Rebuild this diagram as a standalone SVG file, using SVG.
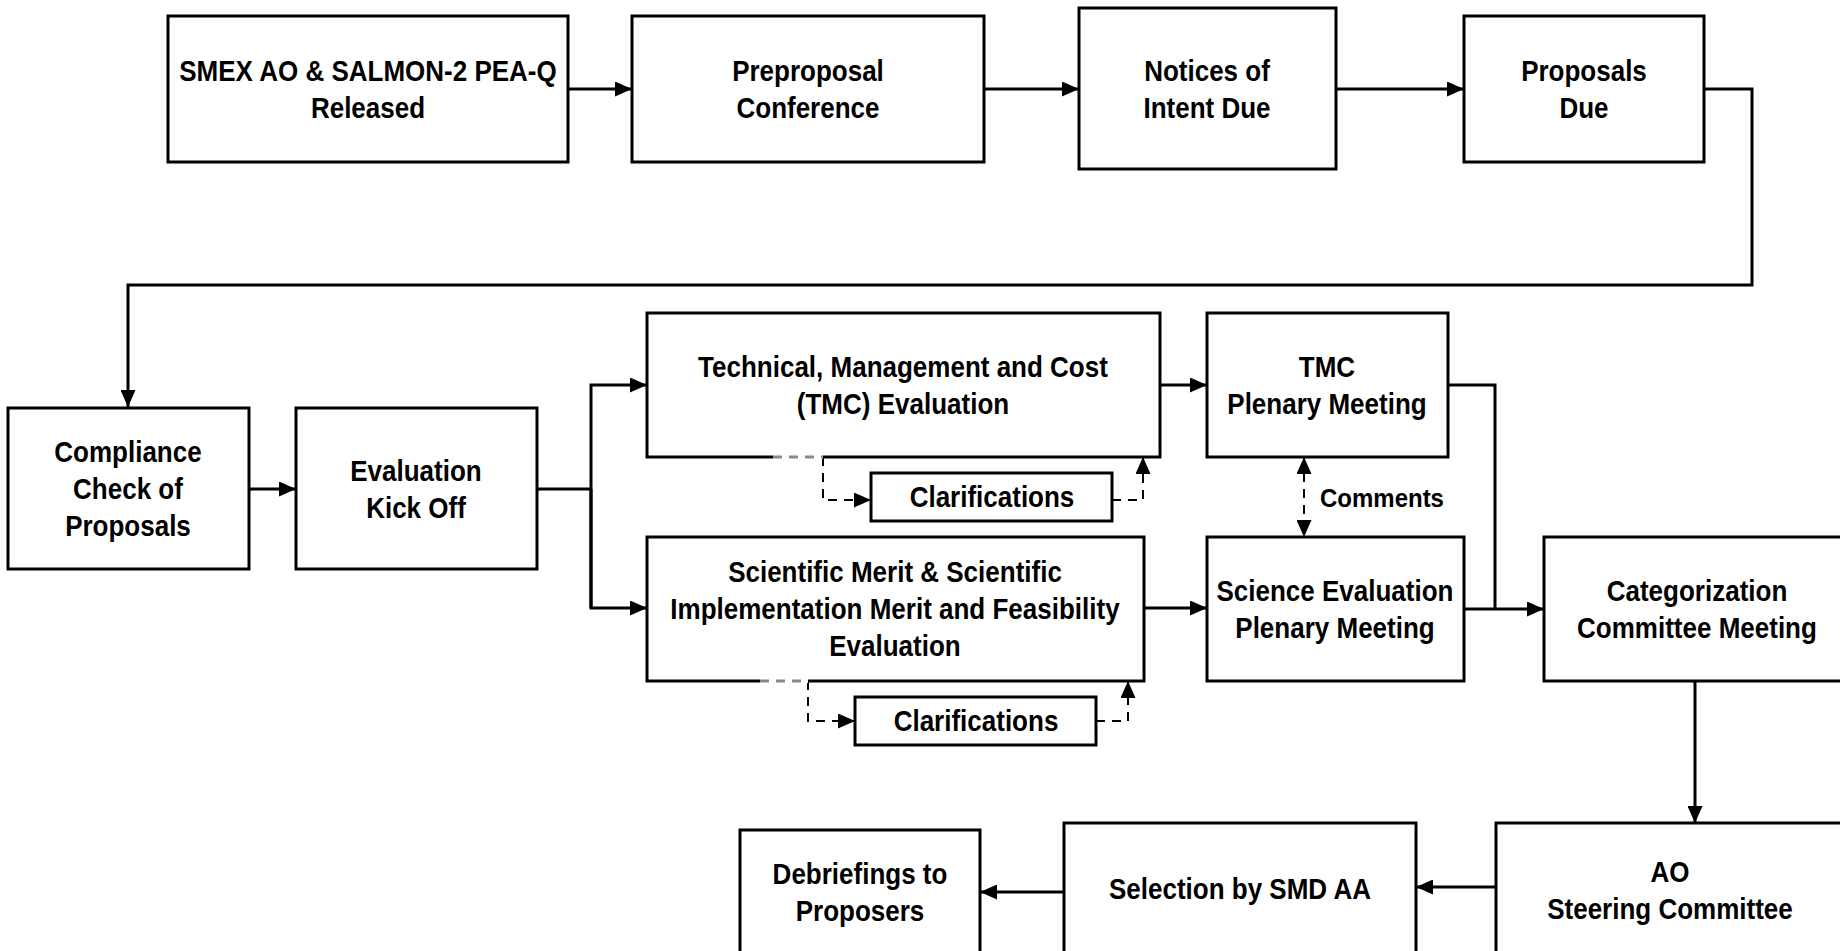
<svg xmlns="http://www.w3.org/2000/svg" width="1840" height="951" viewBox="0 0 1840 951">
<style>
  .box { fill: #ffffff; stroke: #000000; stroke-width: 3; }
  .t { font-family: "Liberation Sans", Arial, sans-serif; font-weight: bold; font-size: 26px; fill: #000000; text-anchor: middle; transform-box: fill-box; transform-origin: center; transform: scaleY(1.1); }
  .lbl { font-family: "Liberation Sans", Arial, sans-serif; font-weight: bold; font-size: 24px; fill: #000000; transform-box: fill-box; transform-origin: center; transform: scaleY(1.1); }
  .c { fill: none; stroke: #000000; stroke-width: 3; }
  .d { fill: none; stroke: #000000; stroke-width: 2; stroke-dasharray: 9 7; }
  .g { fill: none; stroke: #888888; stroke-width: 3; stroke-dasharray: 9 7; }
  .w { fill: none; stroke: #ffffff; stroke-width: 4; }
</style>
<defs>
  <marker id="arr" markerUnits="userSpaceOnUse" markerWidth="17" markerHeight="15" refX="17" refY="7.5" orient="auto-start-reverse">
    <path d="M0,0 L17,7.5 L0,15 Z" fill="#000000"/>
  </marker>
</defs>
<rect width="1840" height="951" fill="#ffffff"/>

<g id="connectors">
  <path class="c" d="M568,89 L632,89" marker-end="url(#arr)"/>
  <path class="c" d="M984,89 L1079,89" marker-end="url(#arr)"/>
  <path class="c" d="M1336,89 L1464,89" marker-end="url(#arr)"/>
  <path class="c" d="M1704,89 L1752,89 L1752,285 L128,285 L128,407" marker-end="url(#arr)"/>
  <path class="c" d="M249,489 L296,489" marker-end="url(#arr)"/>
  <path class="c" d="M537,489 L591,489"/>
  <path class="c" d="M591,608 L591,385 L647,385" marker-end="url(#arr)"/>
  <path class="c" d="M591,489 L591,608 L647,608" marker-end="url(#arr)"/>
  <path class="c" d="M1160,385 L1207,385" marker-end="url(#arr)"/>
  <path class="c" d="M1144,608 L1207,608" marker-end="url(#arr)"/>
  <path class="c" d="M1448,385 L1495,385 L1495,609"/>
  <path class="c" d="M1464,609 L1544,609" marker-end="url(#arr)"/>
  <path class="c" d="M1695,681 L1695,823" marker-end="url(#arr)"/>
  <path class="c" d="M1496,887 L1416,887" marker-end="url(#arr)"/>
  <path class="c" d="M1064,892 L980,892" marker-end="url(#arr)"/>
  <path class="d" d="M823,457 L823,500 L871,500" marker-end="url(#arr)"/>
  <path class="d" d="M1112,500 L1143,500 L1143,457" marker-end="url(#arr)"/>
  <path class="d" d="M808,681 L808,721 L855,721" marker-end="url(#arr)"/>
  <path class="d" d="M1096,721 L1128,721 L1128,681" marker-end="url(#arr)"/>
  <path class="d" d="M1304,457 L1304,537" marker-start="url(#arr)" marker-end="url(#arr)"/>
  <text class="lbl" x="1320" y="506">Comments</text>
</g>

<g id="n-smex"><rect class="box" x="168" y="16" width="400" height="146"/>
  <text class="t" x="368" y="80">SMEX AO &amp; SALMON-2 PEA-Q</text><text class="t" x="368" y="117">Released</text></g>
<g id="n-preproposal"><rect class="box" x="632" y="16" width="352" height="146"/>
  <text class="t" x="808" y="80">Preproposal</text><text class="t" x="808" y="117">Conference</text></g>
<g id="n-noi"><rect class="box" x="1079" y="8" width="257" height="161"/>
  <text class="t" x="1207" y="80">Notices of</text><text class="t" x="1207" y="117">Intent Due</text></g>
<g id="n-proposals"><rect class="box" x="1464" y="16" width="240" height="146"/>
  <text class="t" x="1584" y="80">Proposals</text><text class="t" x="1584" y="117">Due</text></g>

<g id="n-compliance"><rect class="box" x="8" y="408" width="241" height="161"/>
  <text class="t" x="128" y="461">Compliance</text><text class="t" x="128" y="498">Check of</text><text class="t" x="128" y="535">Proposals</text></g>
<g id="n-kickoff"><rect class="box" x="296" y="408" width="241" height="161"/>
  <text class="t" x="416" y="480">Evaluation</text><text class="t" x="416" y="517">Kick Off</text></g>
<g id="n-tmc"><rect class="box" x="647" y="313" width="513" height="144"/>
  <text class="t" x="903" y="376">Technical, Management and Cost</text><text class="t" x="903" y="413">(TMC) Evaluation</text>
  <path class="w" d="M773,457 L823,457"/><path class="g" d="M773,457 L823,457"/></g>
<g id="n-tmcplenary"><rect class="box" x="1207" y="313" width="241" height="144"/>
  <text class="t" x="1327" y="376">TMC</text><text class="t" x="1327" y="413">Plenary Meeting</text></g>
<g id="n-clar1"><rect class="box" x="871" y="473" width="241" height="48"/>
  <text class="t" x="992" y="506">Clarifications</text></g>
<g id="n-sci"><rect class="box" x="647" y="537" width="497" height="144"/>
  <text class="t" x="895" y="581">Scientific Merit &amp; Scientific</text><text class="t" x="895" y="618">Implementation Merit and Feasibility</text><text class="t" x="895" y="655">Evaluation</text>
  <path class="w" d="M760,681 L808,681"/><path class="g" d="M760,681 L808,681"/></g>
<g id="n-sciplenary"><rect class="box" x="1207" y="537" width="257" height="144"/>
  <text class="t" x="1335" y="600">Science Evaluation</text><text class="t" x="1335" y="637">Plenary Meeting</text></g>
<g id="n-clar2"><rect class="box" x="855" y="697" width="241" height="48"/>
  <text class="t" x="976" y="730">Clarifications</text></g>
<g id="n-categorization"><rect class="box" x="1544" y="537" width="306" height="144"/>
  <text class="t" x="1697" y="600">Categorization</text><text class="t" x="1697" y="637">Committee Meeting</text></g>

<g id="n-aosteering"><rect class="box" x="1496" y="823" width="354" height="145"/>
  <text class="t" x="1670" y="881">AO</text><text class="t" x="1670" y="918">Steering Committee</text></g>
<g id="n-selection"><rect class="box" x="1064" y="823" width="352" height="145"/>
  <text class="t" x="1240" y="898">Selection by SMD AA</text></g>
<g id="n-debriefings"><rect class="box" x="740" y="830" width="240" height="138"/>
  <text class="t" x="860" y="883">Debriefings to</text><text class="t" x="860" y="920">Proposers</text></g>
</svg>
